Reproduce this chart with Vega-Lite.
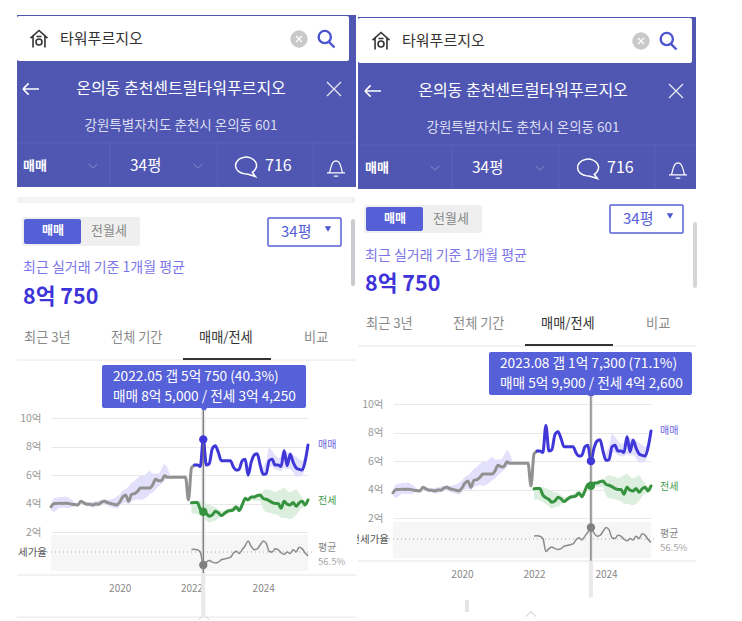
{"$schema":"https://vega.github.io/schema/vega-lite/v6.json","background":"white","padding":{"left":16,"right":46,"top":0,"bottom":0},"spacing":0,"config":{"view":{"stroke":null},"text":{"font":"Noto Sans CJK KR","baseline":"middle","align":"left"},"axis":{"labelFont":"Noto Sans CJK KR","title":null}},
"datasets":{"chrome":[{"part":"page chrome"}],"series":[
{"date":"2018-02-01","early":3.77,"saleLow":3.6,"saleHigh":3.9},
{"date":"2018-03-01","early":3.98,"saleLow":3.4,"saleHigh":4.35},
{"date":"2018-04-01","early":4.0,"saleLow":3.55,"saleHigh":4.4},
{"date":"2018-05-01","early":4.02,"saleLow":3.7,"saleHigh":4.45},
{"date":"2018-06-01","early":4.0,"saleLow":3.7,"saleHigh":4.45},
{"date":"2018-07-01","early":4.02,"saleLow":3.7,"saleHigh":4.5},
{"date":"2018-08-01","early":4.0,"saleLow":3.67,"saleHigh":4.4},
{"date":"2018-09-01","early":3.95,"saleLow":3.75,"saleHigh":4.25},
{"date":"2018-10-01","early":3.93,"saleLow":3.8,"saleHigh":4.05},
{"date":"2018-11-01","early":3.9,"saleLow":3.8,"saleHigh":4.0},
{"date":"2018-12-01","early":4.15,"saleLow":4.0,"saleHigh":4.25},
{"date":"2019-01-01","early":4.05,"saleLow":3.95,"saleHigh":4.15},
{"date":"2019-02-01","early":3.95,"saleLow":3.85,"saleHigh":4.1},
{"date":"2019-03-01","early":3.95,"saleLow":3.8,"saleHigh":4.1},
{"date":"2019-04-01","early":3.9,"saleLow":3.7,"saleHigh":4.1},
{"date":"2019-05-01","early":3.97,"saleLow":3.75,"saleHigh":4.15},
{"date":"2019-06-01","early":3.95,"saleLow":3.8,"saleHigh":4.2},
{"date":"2019-07-01","early":4.1,"saleLow":3.95,"saleHigh":4.25},
{"date":"2019-08-01","early":4.15,"saleLow":3.95,"saleHigh":4.3},
{"date":"2019-09-01","early":4.05,"saleLow":3.85,"saleHigh":4.25},
{"date":"2019-10-01","early":4.0,"saleLow":3.75,"saleHigh":4.3},
{"date":"2019-11-01","early":3.95,"saleLow":3.7,"saleHigh":4.35},
{"date":"2019-12-01","early":3.9,"saleLow":3.65,"saleHigh":4.45},
{"date":"2020-01-01","early":4.1,"saleLow":3.8,"saleHigh":4.65},
{"date":"2020-02-01","early":4.45,"saleLow":4.0,"saleHigh":4.9},
{"date":"2020-03-01","early":4.6,"saleLow":4.05,"saleHigh":5.0},
{"date":"2020-04-01","early":4.15,"saleLow":3.95,"saleHigh":5.2},
{"date":"2020-05-01","early":4.65,"saleLow":4.15,"saleHigh":5.45},
{"date":"2020-06-01","early":4.7,"saleLow":4.25,"saleHigh":5.6},
{"date":"2020-07-01","early":4.85,"saleLow":4.3,"saleHigh":5.8},
{"date":"2020-08-01","early":5.08,"saleLow":4.25,"saleHigh":5.95},
{"date":"2020-09-01","early":5.08,"saleLow":4.3,"saleHigh":5.95},
{"date":"2020-10-01","early":5.08,"saleLow":4.45,"saleHigh":6.1},
{"date":"2020-11-01","early":5.08,"saleLow":4.65,"saleHigh":6.3},
{"date":"2020-12-01","early":5.3,"saleLow":4.75,"saleHigh":6.1},
{"date":"2021-01-01","early":5.7,"saleLow":5.0,"saleHigh":6.1},
{"date":"2021-02-01","early":5.6,"saleLow":5.2,"saleHigh":6.1},
{"date":"2021-03-01","early":5.6,"saleLow":5.35,"saleHigh":6.4},
{"date":"2021-04-01","early":5.95,"saleLow":5.6,"saleHigh":6.75},
{"date":"2021-05-01","early":5.85,"saleLow":5.75,"saleHigh":6.5},
{"date":"2021-06-01","early":5.85,"saleLow":5.85,"saleHigh":5.9},
{"date":"2021-07-01","early":5.85},
{"date":"2021-08-01","early":5.85},
{"date":"2021-09-01","early":5.85},
{"date":"2021-10-01","early":5.85},
{"date":"2021-11-01","early":5.85},
{"date":"2021-12-01","early":4.25},
{"date":"2022-01-01","early":6.5,"rent":4.05,"rentLow":3.3,"rentHigh":4.1,"ratio":60.2},
{"date":"2022-02-01","early":6.7,"sale":6.7,"rent":4.07,"rentLow":3.3,"rentHigh":4.2,"ratio":60.4},
{"date":"2022-03-01","sale":6.7,"rent":4.07,"rentLow":3.25,"rentHigh":4.2,"ratio":60},
{"date":"2022-04-01","sale":6.6,"rent":3.6,"rentLow":3.1,"rentHigh":4.15,"ratio":57},
{"date":"2022-05-01","sale":8.5,"rent":3.43,"rentLow":3.0,"rentHigh":4.1,"ratio":40.3},
{"date":"2022-06-01","sale":6.7,"rent":3.3,"rentLow":2.8,"rentHigh":4.0,"ratio":44},
{"date":"2022-07-01","sale":6.8,"rent":3.1,"rentLow":2.65,"rentHigh":3.9,"ratio":46},
{"date":"2022-08-01","sale":7.85,"rent":3.2,"rentLow":2.75,"rentHigh":3.8,"ratio":44},
{"date":"2022-09-01","sale":8.05,"rent":3.45,"rentLow":2.8,"rentHigh":3.75,"ratio":43},
{"date":"2022-10-01","sale":7.6,"rent":3.35,"rentLow":2.95,"rentHigh":3.6,"ratio":44},
{"date":"2022-11-01","sale":7.0,"rent":3.15,"rentLow":3.05,"rentHigh":3.5,"ratio":47},
{"date":"2022-12-01","sale":7.0,"rent":3.3,"rentLow":3.15,"rentHigh":3.5,"ratio":48},
{"date":"2023-01-01","sale":7.0,"rent":3.45,"rentLow":3.3,"rentHigh":3.6,"ratio":49},
{"date":"2023-02-01","sale":7.0,"rent":3.5,"rentLow":3.35,"rentHigh":3.7,"ratio":50},
{"date":"2023-03-01","sale":6.6,"rent":3.55,"rentLow":3.4,"rentHigh":3.8,"ratio":55},
{"date":"2023-04-01","sale":6.35,"rent":3.75,"rentLow":3.55,"rentHigh":3.95,"ratio":58},
{"date":"2023-05-01","sale":6.4,"rent":3.5,"rentLow":3.4,"rentHigh":3.8,"ratio":55},
{"date":"2023-06-01","sale":7.0,"rent":3.9,"rentLow":3.75,"rentHigh":4.1,"ratio":60},
{"date":"2023-07-01","sale":7.1,"rent":4.35,"rentLow":4.2,"rentHigh":4.5,"ratio":65},
{"date":"2023-08-01","sale":5.99,"rent":4.26,"rentLow":4.15,"rentHigh":4.45,"ratio":71.1},
{"date":"2023-09-01","sale":6.9,"rent":4.45,"rentLow":4.25,"rentHigh":4.55,"ratio":64},
{"date":"2023-10-01","sale":7.4,"rent":4.45,"rentLow":4.2,"rentHigh":4.6,"ratio":60},
{"date":"2023-11-01","sale":7.5,"rent":4.55,"rentLow":4.2,"rentHigh":4.7,"ratio":61},
{"date":"2023-12-01","sale":6.7,"rent":4.6,"rentLow":4.15,"rentHigh":4.7,"ratio":66},
{"date":"2024-01-01","sale":6.05,"saleLow":5.95,"saleHigh":6.6,"rent":4.35,"rentLow":3.6,"rentHigh":4.9,"ratio":71},
{"date":"2024-02-01","sale":6.1,"saleLow":6.0,"saleHigh":7.0,"rent":4.3,"rentLow":3.4,"rentHigh":5.0,"ratio":68},
{"date":"2024-03-01","sale":7.0,"saleLow":6.6,"saleHigh":7.9,"rent":4.2,"rentLow":3.35,"rentHigh":4.95,"ratio":58},
{"date":"2024-04-01","sale":7.1,"saleLow":6.6,"saleHigh":7.7,"rent":4.07,"rentLow":3.3,"rentHigh":4.9,"ratio":57},
{"date":"2024-05-01","sale":6.7,"saleLow":6.4,"saleHigh":7.4,"rent":4.0,"rentLow":3.25,"rentHigh":4.8,"ratio":61},
{"date":"2024-06-01","sale":6.7,"saleLow":6.35,"saleHigh":7.2,"rent":4.0,"rentLow":3.2,"rentHigh":4.9,"ratio":60},
{"date":"2024-07-01","sale":6.6,"saleLow":6.3,"saleHigh":7.3,"rent":3.67,"rentLow":3.0,"rentHigh":5.0,"ratio":56},
{"date":"2024-08-01","sale":7.7,"saleLow":6.5,"saleHigh":7.8,"rent":4.15,"rentLow":3.0,"rentHigh":5.1,"ratio":54},
{"date":"2024-09-01","sale":6.65,"saleLow":6.4,"saleHigh":7.6,"rent":3.95,"rentLow":2.95,"rentHigh":4.9,"ratio":57},
{"date":"2024-10-01","sale":7.45,"saleLow":6.4,"saleHigh":7.6,"rent":3.9,"rentLow":2.9,"rentHigh":4.8,"ratio":55},
{"date":"2024-11-01","sale":6.9,"saleLow":6.2,"saleHigh":7.4,"rent":4.07,"rentLow":3.0,"rentHigh":4.9,"ratio":60},
{"date":"2024-12-01","sale":6.5,"saleLow":5.9,"saleHigh":7.3,"rent":3.8,"rentLow":3.2,"rentHigh":5.0,"ratio":57},
{"date":"2025-01-01","sale":6.4,"saleLow":5.9,"saleHigh":7.1,"rent":4.05,"rentLow":3.5,"rentHigh":4.7,"ratio":63},
{"date":"2025-02-01","sale":6.35,"saleLow":5.95,"saleHigh":7.0,"rent":4.15,"rentLow":3.7,"rentHigh":4.4,"ratio":61},
{"date":"2025-03-01","sale":6.9,"saleLow":6.6,"saleHigh":7.3,"rent":3.9,"rentLow":3.75,"rentHigh":4.2,"ratio":56},
{"date":"2025-04-01","sale":8.1,"saleLow":8.0,"saleHigh":8.2,"rent":4.25,"rentLow":4.2,"rentHigh":4.3,"ratio":52}
]},
"hconcat":[
{"width":340,"height":621,"resolve":{"scale":{"x":"independent","y":"independent"}},"layer":[
{"data":{"name":"chrome"},"layer":[
{"mark":{"type":"rect","color":"#4f57b3"},"encoding":{"x":{"datum":17,"axis":null,"scale":{"domain":[17,357],"nice":false,"zero":false}},"x2":{"datum":356},"y":{"datum":15,"axis":null,"scale":{"domain":[621,0],"nice":false,"zero":false}},"y2":{"datum":187}}},
{"mark":{"type":"rect","color":"#ffffff","cornerRadius":2},"encoding":{"x":{"datum":17,"axis":null},"x2":{"datum":349},"y":{"datum":16,"axis":null},"y2":{"datum":61}}},
{"mark":{"type":"rule","color":"#5a62bb"},"encoding":{"x":{"datum":17,"axis":null},"x2":{"datum":356},"y":{"datum":143,"axis":null}}},
{"mark":{"type":"rule","color":"#5a62bb"},"encoding":{"x":{"datum":110,"axis":null},"y":{"datum":143,"axis":null},"y2":{"datum":187}}},
{"mark":{"type":"rule","color":"#5a62bb"},"encoding":{"x":{"datum":217,"axis":null},"y":{"datum":143,"axis":null},"y2":{"datum":187}}},
{"mark":{"type":"rule","color":"#5a62bb"},"encoding":{"x":{"datum":313,"axis":null},"y":{"datum":143,"axis":null},"y2":{"datum":187}}},
{"mark":{"type":"rect","color":"#f3f3f3"},"encoding":{"x":{"datum":17,"axis":null},"x2":{"datum":355},"y":{"datum":197,"axis":null},"y2":{"datum":203}}},
{"mark":{"type":"rect","color":"#efefef","cornerRadius":2},"encoding":{"x":{"datum":22,"axis":null},"x2":{"datum":140},"y":{"datum":217,"axis":null},"y2":{"datum":246}}},
{"mark":{"type":"rect","color":"#5560d6","cornerRadius":2},"encoding":{"x":{"datum":24,"axis":null},"x2":{"datum":81,"axis":null},"y":{"datum":219,"axis":null},"y2":{"datum":244}}},
{"mark":{"type":"rect","fill":"#ffffff","stroke":"#5560d6","strokeWidth":1.5,"cornerRadius":1},"encoding":{"x":{"datum":268,"axis":null},"x2":{"datum":341},"y":{"datum":218,"axis":null},"y2":{"datum":246}}},
{"mark":{"type":"rect","color":"#c9cbd0","cornerRadius":2},"encoding":{"x":{"datum":351,"axis":null},"x2":{"datum":355},"y":{"datum":219,"axis":null},"y2":{"datum":286}}},
{"mark":{"type":"rule","color":"#e6e6e6"},"encoding":{"x":{"datum":17,"axis":null},"x2":{"datum":356},"y":{"datum":360,"axis":null}}},
{"mark":{"type":"rect","color":"#333333"},"encoding":{"x":{"datum":183,"axis":null},"x2":{"datum":271},"y":{"datum":358,"axis":null},"y2":{"datum":360}}},
{"mark":{"type":"rule","color":"#e4e4e4","strokeWidth":1.2},"encoding":{"x":{"datum":17,"axis":null},"x2":{"datum":356},"y":{"datum":575,"axis":null}}},
{"mark":{"type":"rule","color":"#e8e8e8"},"encoding":{"x":{"datum":17,"axis":null},"x2":{"datum":356},"y":{"datum":617,"axis":null}}},
{"mark":{"type":"rect","color":"#f6f6f6"},"encoding":{"x":{"datum":51,"axis":null},"x2":{"datum":308},"y":{"datum":535,"axis":null},"y2":{"datum":571}}},
{"mark":{"type":"rule","color":"#aaaaaa","strokeDash":[1,3],"strokeWidth":1.2},"encoding":{"x":{"datum":47,"axis":null},"x2":{"datum":314},"y":{"datum":552,"axis":null}}},
{"mark":{"type":"point","shape":"M-1 -0.1 L0 -1 L1 -0.1 M-0.7 -0.35 V1 M0.7 -0.35 V1 M-0.3 -0.3 H0.3 M-0.35 0.35 A0.35 0.35 0 1 0 0.35 0.35 A0.35 0.35 0 1 0 -0.35 0.35","size":289,"filled":false,"stroke":"#333333","strokeWidth":1.6,"opacity":1},"encoding":{"x":{"datum":39,"axis":null},"y":{"datum":39,"axis":null}}},
{"mark":{"type":"text","text":"타워푸르지오","fontSize":15,"color":"#333333"},"encoding":{"x":{"datum":60,"axis":null},"y":{"datum":39,"axis":null}}},
{"mark":{"type":"circle","color":"#c9c9c9","size":300,"opacity":1},"encoding":{"x":{"datum":299,"axis":null},"y":{"datum":39,"axis":null}}},
{"mark":{"type":"point","shape":"M-1 -1 L1 1 M-1 1 L1 -1","size":36,"filled":false,"stroke":"#ffffff","strokeWidth":1.2,"opacity":1},"encoding":{"x":{"datum":299,"axis":null},"y":{"datum":39,"axis":null}}},
{"mark":{"type":"point","shape":"M-0.15 -0.95 A0.72 0.72 0 1 0 -0.14 -0.95 Z M0.4 0.4 L1 1","size":289,"filled":false,"stroke":"#4c55d0","strokeWidth":2.4,"opacity":1},"encoding":{"x":{"datum":326,"axis":null},"y":{"datum":39,"axis":null}}},
{"mark":{"type":"point","shape":"M-1 0 H1 M-1 0 L-0.3 -0.7 M-1 0 L-0.3 0.7","size":256,"filled":false,"stroke":"#ffffff","strokeWidth":1.6,"opacity":1},"encoding":{"x":{"datum":31,"axis":null},"y":{"datum":89,"axis":null}}},
{"mark":{"type":"text","text":"온의동 춘천센트럴타워푸르지오","fontSize":16,"color":"#ffffff","align":"center"},"encoding":{"x":{"datum":181,"axis":null},"y":{"datum":89,"axis":null}}},
{"mark":{"type":"point","shape":"M-1 -1 L1 1 M-1 1 L1 -1","size":196,"filled":false,"stroke":"#e8e8f4","strokeWidth":1.3,"opacity":1},"encoding":{"x":{"datum":334,"axis":null},"y":{"datum":89,"axis":null}}},
{"mark":{"type":"text","text":"강원특별자치도 춘천시 온의동 601","fontSize":13.5,"color":"#dcdcf0","align":"center"},"encoding":{"x":{"datum":181,"axis":null},"y":{"datum":126,"axis":null}}},
{"mark":{"type":"text","text":"매매","fontSize":13,"color":"#ffffff","fontWeight":"bold"},"encoding":{"x":{"datum":23,"axis":null},"y":{"datum":166,"axis":null}}},
{"mark":{"type":"point","shape":"M-1 -0.5 L0 0.5 L1 -0.5","size":81,"filled":false,"stroke":"#858bcc","strokeWidth":1,"opacity":1},"encoding":{"x":{"datum":93,"axis":null},"y":{"datum":166,"axis":null}}},
{"mark":{"type":"text","text":"34평","fontSize":15.5,"color":"#ffffff"},"encoding":{"x":{"datum":130,"axis":null},"y":{"datum":166,"axis":null}}},
{"mark":{"type":"point","shape":"M-1 -0.5 L0 0.5 L1 -0.5","size":81,"filled":false,"stroke":"#858bcc","strokeWidth":1,"opacity":1},"encoding":{"x":{"datum":198,"axis":null},"y":{"datum":166,"axis":null}}},
{"mark":{"type":"point","shape":"M-0.2 0.75 A1 0.8 0 1 1 0.5 0.6 L0.8 1 L0.1 0.78 Z","size":441,"filled":false,"stroke":"#ffffff","strokeWidth":1.5,"opacity":1},"encoding":{"x":{"datum":247,"axis":null},"y":{"datum":166,"axis":null}}},
{"mark":{"type":"text","text":"716","fontSize":16,"color":"#ffffff"},"encoding":{"x":{"datum":265,"axis":null},"y":{"datum":166,"axis":null}}},
{"mark":{"type":"point","shape":"M-0.75 0.55 C-0.55 0.2 -0.6 -0.8 0 -0.8 C0.6 -0.8 0.55 0.2 0.75 0.55 Z M-1 0.55 H1 M-0.25 0.9 H0.25","size":324,"filled":false,"stroke":"#ffffff","strokeWidth":1.2,"opacity":1},"encoding":{"x":{"datum":336,"axis":null},"y":{"datum":168,"axis":null}}},
{"mark":{"type":"text","text":"매매","fontSize":12,"color":"#ffffff","fontWeight":"bold","align":"center"},"encoding":{"x":{"datum":53,"axis":null},"y":{"datum":231,"axis":null}}},
{"mark":{"type":"text","text":"전월세","fontSize":13,"color":"#888888","align":"center"},"encoding":{"x":{"datum":109,"axis":null},"y":{"datum":231,"axis":null}}},
{"mark":{"type":"text","text":"34평","fontSize":15,"color":"#5560d6"},"encoding":{"x":{"datum":281,"axis":null},"y":{"datum":232,"axis":null}}},
{"mark":{"type":"point","shape":"triangle-down","size":40,"filled":true,"color":"#4c55d0","opacity":1},"encoding":{"x":{"datum":328,"axis":null},"y":{"datum":229,"axis":null}}},
{"mark":{"type":"text","text":"최근 실거래 기준 1개월 평균","fontSize":14,"color":"#7c76e8"},"encoding":{"x":{"datum":23,"axis":null},"y":{"datum":268,"axis":null}}},
{"mark":{"type":"text","text":"8억 750","fontSize":21.5,"fontWeight":"bold","color":"#3e33d8"},"encoding":{"x":{"datum":23,"axis":null},"y":{"datum":298,"axis":null}}},
{"mark":{"type":"text","text":"최근 3년","fontSize":13.2,"color":"#8a8a8a"},"encoding":{"x":{"datum":24,"axis":null},"y":{"datum":338,"axis":null}}},
{"mark":{"type":"text","text":"전체 기간","fontSize":13.2,"color":"#8a8a8a"},"encoding":{"x":{"datum":111,"axis":null},"y":{"datum":338,"axis":null}}},
{"mark":{"type":"text","text":"매매/전세","fontSize":13.2,"color":"#333333"},"encoding":{"x":{"datum":199,"axis":null},"y":{"datum":338,"axis":null}}},
{"mark":{"type":"text","text":"비교","fontSize":13.2,"color":"#8a8a8a"},"encoding":{"x":{"datum":304,"axis":null},"y":{"datum":338,"axis":null}}},
{"mark":{"type":"rect","color":"#5660d8","cornerRadius":2},"encoding":{"x":{"datum":102,"axis":null},"x2":{"datum":306},"y":{"datum":365,"axis":null},"y2":{"datum":408}}},
{"mark":{"type":"point","shape":"triangle-down","size":50,"filled":true,"color":"#5660d8","opacity":1},"encoding":{"x":{"datum":204,"axis":null},"y":{"datum":410,"axis":null}}},
{"mark":{"type":"text","text":"2022.05  갭 5억 750 (40.3%)","fontSize":13.7,"color":"#ffffff"},"encoding":{"x":{"datum":113,"axis":null},"y":{"datum":377,"axis":null}}},
{"mark":{"type":"text","text":"매매 8억 5,000 / 전세 3억 4,250","fontSize":13.7,"color":"#ffffff"},"encoding":{"x":{"datum":113,"axis":null},"y":{"datum":397,"axis":null}}},
{"mark":{"type":"text","text":"전세가율","fontSize":10.5,"color":"#555555","align":"right","clip":true},"encoding":{"x":{"datum":47,"axis":null},"y":{"datum":553,"axis":null}}},
{"mark":{"type":"text","text":"매매","fontSize":10,"color":"#6a63e0"},"encoding":{"x":{"datum":318,"axis":null},"y":{"datum":445,"axis":null}}},
{"mark":{"type":"text","text":"전세","fontSize":10,"color":"#3f9a4a"},"encoding":{"x":{"datum":318,"axis":null},"y":{"datum":501,"axis":null}}},
{"mark":{"type":"text","text":"평균","fontSize":10,"color":"#888888"},"encoding":{"x":{"datum":318,"axis":null},"y":{"datum":548,"axis":null}}},
{"mark":{"type":"text","text":"56.5%","fontSize":9.5,"color":"#a8a8a8"},"encoding":{"x":{"datum":318,"axis":null},"y":{"datum":562,"axis":null}}},
{"mark":{"type":"point","shape":"M-1 0.5 L0 -0.5 L1 0.5","size":100,"filled":false,"stroke":"#dddddd","strokeWidth":1.2,"opacity":1},"encoding":{"x":{"datum":204,"axis":null},"y":{"datum":617,"axis":null}}}
]},
{"data":{"name":"series"},"encoding":{"x":{"field":"date","type":"temporal","scale":{"domain":["2018-02-01","2025-04-01"],"range":[34,291],"nice":false},"axis":{"orient":"bottom","values":[{"year":2020,"month":1},{"year":2022,"month":1},{"year":2024,"month":1}],"format":"%Y","offset":-38,"domain":false,"ticks":false,"grid":false,"labelPadding":0,"labelFontSize":10,"labelColor":"#888888"}}},"layer":[
{"mark":{"type":"rule","color":"#e9e9e9","strokeWidth":4},"data":{"values":[{"date":"2022-05-01"}]},"encoding":{"y":{"datum":10.56,"scale":{"domain":[2,10],"range":[532,418],"nice":false,"zero":false},"axis":{"orient":"left","values":[2,4,6,8,10],"labelExpr":"datum.value + '억'","offset":-24,"domain":false,"ticks":false,"grid":true,"gridColor":"#e8e8e8","labelPadding":0,"labelFontSize":10.5,"labelColor":"#999999"}},"y2":{"datum":-3.96}}},
{"mark":{"type":"area","color":"#e3e0fb","interpolate":"monotone"},"encoding":{"y":{"field":"saleLow","type":"quantitative"},"y2":{"field":"saleHigh"}}},
{"mark":{"type":"area","color":"#dceedd","interpolate":"monotone"},"encoding":{"y":{"field":"rentLow","type":"quantitative"},"y2":{"field":"rentHigh"}}},
{"mark":{"type":"line","color":"#919191","strokeWidth":3,"interpolate":"monotone","strokeCap":"round"},"encoding":{"y":{"field":"early","type":"quantitative"}}},
{"mark":{"type":"line","color":"#3f37d8","strokeWidth":3,"interpolate":"monotone","strokeCap":"round"},"encoding":{"y":{"field":"sale","type":"quantitative"}}},
{"mark":{"type":"line","color":"#35923f","strokeWidth":3,"interpolate":"monotone","strokeCap":"round"},"encoding":{"y":{"field":"rent","type":"quantitative"}}},
{"mark":{"type":"rule","color":"#707070","strokeWidth":1.2},"data":{"values":[{"date":"2022-05-01"}]},"encoding":{"y":{"datum":10.56},"y2":{"datum":-0.88}}},
{"mark":{"type":"circle","color":"#3f37d8","size":70,"opacity":1},"data":{"values":[{"date":"2022-05-01","value":8.5}]},"encoding":{"y":{"field":"value","type":"quantitative"}}},
{"mark":{"type":"circle","color":"#35923f","size":70,"opacity":1},"data":{"values":[{"date":"2022-05-01","value":3.425}]},"encoding":{"y":{"field":"value","type":"quantitative"}}}
]},
{"data":{"name":"series"},"encoding":{"x":{"field":"date","type":"temporal","axis":null,"scale":{"domain":["2018-02-01","2025-04-01"],"range":[34,291],"nice":false}},"y":{"field":"ratio","type":"quantitative","axis":null,"scale":{"domain":[40.3,71.1],"range":[565,541],"nice":false,"zero":false}}},"layer":[
{"mark":{"type":"line","color":"#8a8a8a","strokeWidth":1.5,"interpolate":"monotone"}},
{"mark":{"type":"circle","color":"#808080","size":70,"opacity":1},"data":{"values":[{"date":"2022-05-01","ratio":40.3}]}}
]}
]},
{"width":340,"height":621,"resolve":{"scale":{"x":"independent","y":"independent"}},"layer":[
{"data":{"name":"chrome"},"layer":[
{"mark":{"type":"rect","color":"#4f57b3"},"encoding":{"x":{"datum":358,"axis":null,"scale":{"domain":[357,697],"nice":false,"zero":false}},"x2":{"datum":696},"y":{"datum":17,"axis":null,"scale":{"domain":[621,0],"nice":false,"zero":false}},"y2":{"datum":189}}},
{"mark":{"type":"rect","color":"#ffffff","cornerRadius":2},"encoding":{"x":{"datum":358,"axis":null},"x2":{"datum":692},"y":{"datum":18,"axis":null},"y2":{"datum":63}}},
{"mark":{"type":"rule","color":"#5a62bb"},"encoding":{"x":{"datum":358,"axis":null},"x2":{"datum":696},"y":{"datum":145,"axis":null}}},
{"mark":{"type":"rule","color":"#5a62bb"},"encoding":{"x":{"datum":452,"axis":null},"y":{"datum":145,"axis":null},"y2":{"datum":189}}},
{"mark":{"type":"rule","color":"#5a62bb"},"encoding":{"x":{"datum":559,"axis":null},"y":{"datum":145,"axis":null},"y2":{"datum":189}}},
{"mark":{"type":"rule","color":"#5a62bb"},"encoding":{"x":{"datum":655,"axis":null},"y":{"datum":145,"axis":null},"y2":{"datum":189}}},
{"mark":{"type":"rect","color":"#efefef","cornerRadius":2},"encoding":{"x":{"datum":364,"axis":null},"x2":{"datum":482},"y":{"datum":205,"axis":null},"y2":{"datum":233}}},
{"mark":{"type":"rect","color":"#5560d6","cornerRadius":2},"encoding":{"x":{"datum":366,"axis":null},"x2":{"datum":423},"y":{"datum":207,"axis":null},"y2":{"datum":231}}},
{"mark":{"type":"rect","fill":"#ffffff","stroke":"#5560d6","strokeWidth":1.5,"cornerRadius":1},"encoding":{"x":{"datum":610,"axis":null},"x2":{"datum":683,"axis":null},"y":{"datum":205,"axis":null},"y2":{"datum":233}}},
{"mark":{"type":"rect","color":"#d4d6da","cornerRadius":2},"encoding":{"x":{"datum":693,"axis":null},"x2":{"datum":697},"y":{"datum":222,"axis":null},"y2":{"datum":288}}},
{"mark":{"type":"rule","color":"#e6e6e6"},"encoding":{"x":{"datum":358,"axis":null},"x2":{"datum":696},"y":{"datum":346,"axis":null}}},
{"mark":{"type":"rect","color":"#333333"},"encoding":{"x":{"datum":525,"axis":null},"x2":{"datum":613},"y":{"datum":344,"axis":null},"y2":{"datum":346}}},
{"mark":{"type":"rule","color":"#e4e4e4","strokeWidth":1.2},"encoding":{"x":{"datum":358,"axis":null},"x2":{"datum":696},"y":{"datum":561,"axis":null}}},
{"mark":{"type":"rect","color":"#f6f6f6"},"encoding":{"x":{"datum":393,"axis":null},"x2":{"datum":651},"y":{"datum":522,"axis":null},"y2":{"datum":558}}},
{"mark":{"type":"rule","color":"#aaaaaa","strokeDash":[1,3],"strokeWidth":1.2},"encoding":{"x":{"datum":389,"axis":null},"x2":{"datum":656},"y":{"datum":539,"axis":null}}},
{"mark":{"type":"point","shape":"M-1 -0.1 L0 -1 L1 -0.1 M-0.7 -0.35 V1 M0.7 -0.35 V1 M-0.3 -0.3 H0.3 M-0.35 0.35 A0.35 0.35 0 1 0 0.35 0.35 A0.35 0.35 0 1 0 -0.35 0.35","size":289,"filled":false,"stroke":"#333333","strokeWidth":1.6,"opacity":1},"encoding":{"x":{"datum":381,"axis":null},"y":{"datum":41,"axis":null}}},
{"mark":{"type":"text","text":"타워푸르지오","fontSize":15,"color":"#333333"},"encoding":{"x":{"datum":402,"axis":null},"y":{"datum":41,"axis":null}}},
{"mark":{"type":"circle","color":"#c9c9c9","size":300,"opacity":1},"encoding":{"x":{"datum":641,"axis":null},"y":{"datum":41,"axis":null}}},
{"mark":{"type":"point","shape":"M-1 -1 L1 1 M-1 1 L1 -1","size":36,"filled":false,"stroke":"#ffffff","strokeWidth":1.2,"opacity":1},"encoding":{"x":{"datum":641,"axis":null},"y":{"datum":41,"axis":null}}},
{"mark":{"type":"point","shape":"M-0.15 -0.95 A0.72 0.72 0 1 0 -0.14 -0.95 Z M0.4 0.4 L1 1","size":289,"filled":false,"stroke":"#4c55d0","strokeWidth":2.4,"opacity":1},"encoding":{"x":{"datum":668,"axis":null},"y":{"datum":41,"axis":null}}},
{"mark":{"type":"point","shape":"M-1 0 H1 M-1 0 L-0.3 -0.7 M-1 0 L-0.3 0.7","size":256,"filled":false,"stroke":"#ffffff","strokeWidth":1.6,"opacity":1},"encoding":{"x":{"datum":373,"axis":null},"y":{"datum":91,"axis":null}}},
{"mark":{"type":"text","text":"온의동 춘천센트럴타워푸르지오","fontSize":16,"color":"#ffffff","align":"center"},"encoding":{"x":{"datum":523,"axis":null},"y":{"datum":91,"axis":null}}},
{"mark":{"type":"point","shape":"M-1 -1 L1 1 M-1 1 L1 -1","size":196,"filled":false,"stroke":"#e8e8f4","strokeWidth":1.3,"opacity":1},"encoding":{"x":{"datum":676,"axis":null},"y":{"datum":91,"axis":null}}},
{"mark":{"type":"text","text":"강원특별자치도 춘천시 온의동 601","fontSize":13.5,"color":"#dcdcf0","align":"center"},"encoding":{"x":{"datum":523,"axis":null},"y":{"datum":128,"axis":null}}},
{"mark":{"type":"text","text":"매매","fontSize":13,"color":"#ffffff","fontWeight":"bold"},"encoding":{"x":{"datum":365,"axis":null},"y":{"datum":168,"axis":null}}},
{"mark":{"type":"point","shape":"M-1 -0.5 L0 0.5 L1 -0.5","size":81,"filled":false,"stroke":"#858bcc","strokeWidth":1,"opacity":1},"encoding":{"x":{"datum":435,"axis":null},"y":{"datum":168,"axis":null}}},
{"mark":{"type":"text","text":"34평","fontSize":15.5,"color":"#ffffff"},"encoding":{"x":{"datum":472,"axis":null},"y":{"datum":168,"axis":null}}},
{"mark":{"type":"point","shape":"M-1 -0.5 L0 0.5 L1 -0.5","size":81,"filled":false,"stroke":"#858bcc","strokeWidth":1,"opacity":1},"encoding":{"x":{"datum":540,"axis":null},"y":{"datum":168,"axis":null}}},
{"mark":{"type":"point","shape":"M-0.2 0.75 A1 0.8 0 1 1 0.5 0.6 L0.8 1 L0.1 0.78 Z","size":441,"filled":false,"stroke":"#ffffff","strokeWidth":1.5,"opacity":1},"encoding":{"x":{"datum":589,"axis":null},"y":{"datum":168,"axis":null}}},
{"mark":{"type":"text","text":"716","fontSize":16,"color":"#ffffff"},"encoding":{"x":{"datum":607,"axis":null},"y":{"datum":168,"axis":null}}},
{"mark":{"type":"point","shape":"M-0.75 0.55 C-0.55 0.2 -0.6 -0.8 0 -0.8 C0.6 -0.8 0.55 0.2 0.75 0.55 Z M-1 0.55 H1 M-0.25 0.9 H0.25","size":324,"filled":false,"stroke":"#ffffff","strokeWidth":1.2,"opacity":1},"encoding":{"x":{"datum":678,"axis":null},"y":{"datum":170,"axis":null}}},
{"mark":{"type":"text","text":"매매","fontSize":12,"color":"#ffffff","fontWeight":"bold","align":"center"},"encoding":{"x":{"datum":395,"axis":null},"y":{"datum":219,"axis":null}}},
{"mark":{"type":"text","text":"전월세","fontSize":13,"color":"#888888","align":"center"},"encoding":{"x":{"datum":451,"axis":null},"y":{"datum":219,"axis":null}}},
{"mark":{"type":"text","text":"34평","fontSize":15,"color":"#5560d6"},"encoding":{"x":{"datum":623,"axis":null},"y":{"datum":219,"axis":null}}},
{"mark":{"type":"point","shape":"triangle-down","size":40,"filled":true,"color":"#4c55d0","opacity":1},"encoding":{"x":{"datum":670,"axis":null},"y":{"datum":216,"axis":null}}},
{"mark":{"type":"text","text":"최근 실거래 기준 1개월 평균","fontSize":14,"color":"#7c76e8"},"encoding":{"x":{"datum":365,"axis":null},"y":{"datum":256,"axis":null}}},
{"mark":{"type":"text","text":"8억 750","fontSize":21.5,"fontWeight":"bold","color":"#3e33d8"},"encoding":{"x":{"datum":365,"axis":null},"y":{"datum":285,"axis":null}}},
{"mark":{"type":"text","text":"최근 3년","fontSize":13.2,"color":"#8a8a8a"},"encoding":{"x":{"datum":366,"axis":null},"y":{"datum":324,"axis":null}}},
{"mark":{"type":"text","text":"전체 기간","fontSize":13.2,"color":"#8a8a8a"},"encoding":{"x":{"datum":453,"axis":null},"y":{"datum":324,"axis":null}}},
{"mark":{"type":"text","text":"매매/전세","fontSize":13.2,"color":"#333333"},"encoding":{"x":{"datum":541,"axis":null},"y":{"datum":324,"axis":null}}},
{"mark":{"type":"text","text":"비교","fontSize":13.2,"color":"#8a8a8a"},"encoding":{"x":{"datum":646,"axis":null},"y":{"datum":324,"axis":null}}},
{"mark":{"type":"rect","color":"#5660d8","cornerRadius":2},"encoding":{"x":{"datum":489,"axis":null},"x2":{"datum":692},"y":{"datum":352,"axis":null},"y2":{"datum":395}}},
{"mark":{"type":"point","shape":"triangle-down","size":50,"filled":true,"color":"#5660d8","opacity":1},"encoding":{"x":{"datum":591,"axis":null},"y":{"datum":397,"axis":null}}},
{"mark":{"type":"text","text":"2023.08  갭 1억 7,300 (71.1%)","fontSize":13.7,"color":"#ffffff"},"encoding":{"x":{"datum":500,"axis":null},"y":{"datum":364,"axis":null}}},
{"mark":{"type":"text","text":"매매 5억 9,900 / 전세 4억 2,600","fontSize":13.7,"color":"#ffffff"},"encoding":{"x":{"datum":500,"axis":null},"y":{"datum":384,"axis":null}}},
{"mark":{"type":"text","text":"전세가율","fontSize":10.5,"color":"#555555","align":"right","clip":true},"encoding":{"x":{"datum":389,"axis":null},"y":{"datum":540,"axis":null}}},
{"mark":{"type":"text","text":"매매","fontSize":10,"color":"#6a63e0"},"encoding":{"x":{"datum":660,"axis":null},"y":{"datum":431,"axis":null}}},
{"mark":{"type":"text","text":"전세","fontSize":10,"color":"#3f9a4a"},"encoding":{"x":{"datum":660,"axis":null},"y":{"datum":487,"axis":null}}},
{"mark":{"type":"text","text":"평균","fontSize":10,"color":"#888888"},"encoding":{"x":{"datum":660,"axis":null},"y":{"datum":534,"axis":null}}},
{"mark":{"type":"text","text":"56.5%","fontSize":9.5,"color":"#a8a8a8"},"encoding":{"x":{"datum":660,"axis":null},"y":{"datum":548,"axis":null}}},
{"mark":{"type":"rect","color":"#e4e4e4"},"encoding":{"x":{"datum":465,"axis":null},"x2":{"datum":469},"y":{"datum":600,"axis":null},"y2":{"datum":612}}},
{"mark":{"type":"point","shape":"M-1 0.5 L0 -0.5 L1 0.5","size":100,"filled":false,"stroke":"#dddddd","strokeWidth":1.2,"opacity":1},"encoding":{"x":{"datum":531,"axis":null},"y":{"datum":614,"axis":null}}}
]},
{"data":{"name":"series"},"encoding":{"x":{"field":"date","type":"temporal","scale":{"domain":["2018-02-01","2025-04-01"],"range":[36,294],"nice":false},"axis":{"orient":"bottom","values":[{"year":2020,"month":1},{"year":2022,"month":1},{"year":2024,"month":1}],"format":"%Y","offset":-52,"domain":false,"ticks":false,"grid":false,"labelPadding":0,"labelFontSize":10,"labelColor":"#888888"}}},"layer":[
{"mark":{"type":"rule","color":"#e9e9e9","strokeWidth":4},"data":{"values":[{"date":"2023-08-01"}]},"encoding":{"y":{"datum":10.56,"scale":{"domain":[2,10],"range":[518,404],"nice":false,"zero":false},"axis":{"orient":"left","values":[2,4,6,8,10],"labelExpr":"datum.value + '억'","offset":-26,"domain":false,"ticks":false,"grid":true,"gridColor":"#e8e8e8","labelPadding":0,"labelFontSize":10.5,"labelColor":"#999999"}},"y2":{"datum":-3.6}}},
{"mark":{"type":"area","color":"#e3e0fb","interpolate":"monotone"},"encoding":{"y":{"field":"saleLow","type":"quantitative"},"y2":{"field":"saleHigh"}}},
{"mark":{"type":"area","color":"#dceedd","interpolate":"monotone"},"encoding":{"y":{"field":"rentLow","type":"quantitative"},"y2":{"field":"rentHigh"}}},
{"mark":{"type":"line","color":"#919191","strokeWidth":3,"interpolate":"monotone","strokeCap":"round"},"encoding":{"y":{"field":"early","type":"quantitative"}}},
{"mark":{"type":"line","color":"#3f37d8","strokeWidth":3,"interpolate":"monotone","strokeCap":"round"},"encoding":{"y":{"field":"sale","type":"quantitative"}}},
{"mark":{"type":"line","color":"#35923f","strokeWidth":3,"interpolate":"monotone","strokeCap":"round"},"encoding":{"y":{"field":"rent","type":"quantitative"}}},
{"mark":{"type":"rule","color":"#707070","strokeWidth":1.2},"data":{"values":[{"date":"2023-08-01"}]},"encoding":{"y":{"datum":10.56},"y2":{"datum":-1}}},
{"mark":{"type":"circle","color":"#3f37d8","size":70,"opacity":1},"data":{"values":[{"date":"2023-08-01","value":5.99}]},"encoding":{"y":{"field":"value","type":"quantitative"}}},
{"mark":{"type":"circle","color":"#35923f","size":70,"opacity":1},"data":{"values":[{"date":"2023-08-01","value":4.26}]},"encoding":{"y":{"field":"value","type":"quantitative"}}}
]},
{"data":{"name":"series"},"encoding":{"x":{"field":"date","type":"temporal","axis":null,"scale":{"domain":["2018-02-01","2025-04-01"],"range":[36,294],"nice":false}},"y":{"field":"ratio","type":"quantitative","axis":null,"scale":{"domain":[40.3,71.1],"range":[551.5,527.5],"nice":false,"zero":false}}},"layer":[
{"mark":{"type":"line","color":"#8a8a8a","strokeWidth":1.5,"interpolate":"monotone"}},
{"mark":{"type":"circle","color":"#808080","size":70,"opacity":1},"data":{"values":[{"date":"2023-08-01","ratio":71.1}]}}
]}
]}
]}
